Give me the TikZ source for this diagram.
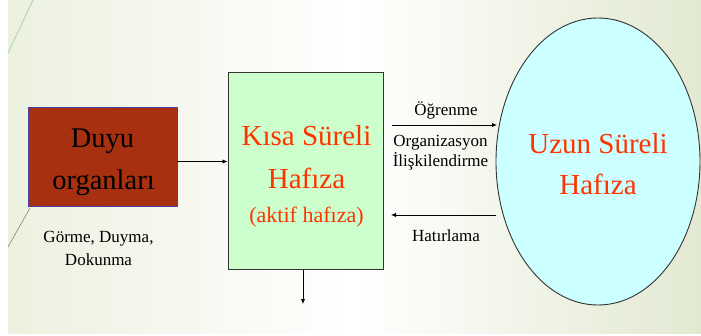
\documentclass[tikz,border=0pt]{standalone}
\usepackage{fontspec}
\setmainfont{Liberation Serif}
\usetikzlibrary{shapes.geometric,arrows.meta}
\definecolor{bgtint}{HTML}{ECF1DF}
\definecolor{bgtintr}{HTML}{E2E9D1}
\definecolor{senseFill}{HTML}{A6300F}
\definecolor{senseEdge}{HTML}{4E3C9E}
\definecolor{stmFill}{HTML}{CCFFCC}
\definecolor{ltmFill}{HTML}{CCFFFF}
\definecolor{redText}{HTML}{FF3300}
\definecolor{frameGray}{HTML}{333333}
\begin{document}
\begin{tikzpicture}[x=1pt,y=-1pt,
  conn/.style={draw=black,line width=0.9pt,-{Latex[length=5pt,width=4.5pt]}},
  bigred/.style={text=redText,font=\fontsize{29}{29}\selectfont,anchor=base,inner sep=0pt},
  midred/.style={text=redText,font=\fontsize{22}{22}\selectfont,anchor=base,inner sep=0pt},
  blackbig/.style={text=black,font=\fontsize{28.5}{28}\selectfont,anchor=base,inner sep=0pt},
  label/.style={text=black,font=\fontsize{17}{17}\selectfont,anchor=base,inner sep=0pt}]
\useasboundingbox (0,0) rectangle (701,335);
% slide background
\fill[white] (0,0) rectangle (701,335);
\shade[left color=bgtint,right color=bgtintr,middle color=white] (8,0) rectangle (701,333);
% decorative diagonal strokes
\draw[color=gray!70!green!60,line width=0.6pt] (33,0) -- (8,53);
\draw[color=gray!70!brown,line width=0.6pt] (30,208) -- (8,247);

% sense organs box
\node[draw=senseEdge,fill=senseFill,line width=0.9pt,minimum width=149pt,minimum height=99pt,inner sep=0pt]
  (sense) at (102.5,156.5) {};
\node[blackbig] (senseA) at (102.5,147) {Duyu};
\node[blackbig] (senseB) at (103.5,189) {organları};
\node[label] (senseC) at (98.5,242.5) {Görme, Duyma,};
\node[label] (senseD) at (98.5,265) {Dokunma};

% short-term memory box
\node[draw=frameGray,fill=stmFill,line width=1pt,minimum width=155pt,minimum height=197pt,inner sep=0pt]
  (stm) at (305.5,170.5) {};
\node[bigred] (stmA) at (306.5,145) {Kısa Süreli};
\node[bigred] (stmB) at (306.5,188) {Hafıza};
\node[midred] (stmC) at (306.5,222) {(aktif hafıza)};

% long-term memory ellipse
\node[ellipse,draw=frameGray,fill=ltmFill,line width=0.9pt,minimum width=204pt,minimum height=287pt,inner sep=0pt]
  (ltm) at (598,161.5) {};
\node[bigred] (ltmA) at (598,153) {Uzun Süreli};
\node[bigred] (ltmB) at (598,194) {Hafıza};

% connectors
\draw[conn] (sense.east |- 0,161.5) -- (stm.west |- 0,161.5);
\coordinate (downEnd) at (303,304);
\draw[conn] (stm.south -| downEnd) -- (downEnd);

\coordinate (upFrom) at (392,125);
\coordinate (upTo) at (497,125);
\coordinate (backFrom) at (496,215);
\coordinate (backTo) at (391,215);
\draw[conn] (upFrom) -- (upTo);
\draw[conn] (backFrom) -- (backTo);

\node[label] (learnA) at (446,115.5) {Öğrenme};
\node[label] (learnB) at (440.5,146) {Organizasyon};
\node[label] (learnC) at (440.5,166) {İlişkilendirme};
\node[label] (recall) at (446,241) {Hatırlama};
\end{tikzpicture}
\end{document}
